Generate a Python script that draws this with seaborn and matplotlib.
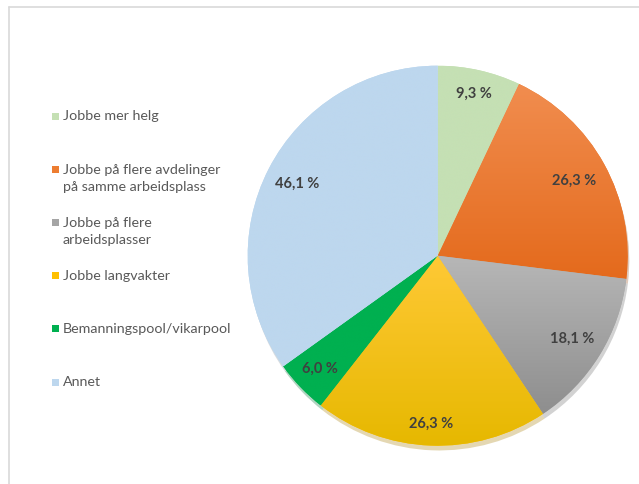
# plot.py - kakediagram, tiltak for å øke stillingsstørrelse

import numpy as np
import seaborn as sns
import matplotlib.pyplot as plt
from matplotlib.patches import Rectangle
from matplotlib.lines import Line2D
from matplotlib.colors import to_rgb, LinearSegmentedColormap

kategorier = [
    "Jobbe mer helg",
    "Jobbe på flere avdelinger\npå samme arbeidsplass",
    "Jobbe på flere\narbeidsplasser",
    "Jobbe langvakter",
    "Bemanningspool/vikarpool",
    "Annet",
]
verdier = [9.3, 26.3, 18.1, 26.3, 6.0, 46.1]

# farge topp / bunn for gradient
farger_topp = ["#C5E0B4", "#F18D4F", "#B7B7B7", "#FFC936", "#00B050", "#BDD7EE"]
farger_bunn = ["#C5E0B4", "#E46A1C", "#8E8E8E", "#E6B800", "#00B050", "#BDD7EE"]
legende_farger = ["#C5E0B4", "#ED7D31", "#A5A5A5", "#FFC000", "#00B050", "#BDD7EE"]

# etikettavstand fra senter (andel av radius), som i Excel "best fit"
etikett_avstand = [0.875, 0.82, 0.83, 0.885, 0.86, 0.83]

sns.set_theme(style="white")
plt.rcParams["font.family"] = ["Lato", "DejaVu Sans"]

W, H = 639, 484
fig = plt.figure(figsize=(W / 100, H / 100), dpi=100)

# pie: senter og radius i piksler
cx, cy, R = 437.7, 255.7, 190.0
half = 200.0
ax = fig.add_axes([(cx - half) / W, (H - cy - half) / H, 2 * half / W, 2 * half / H])

total = sum(verdier)
wedges, tekster, autotekster = ax.pie(
    verdier,
    colors=legende_farger,
    startangle=90,
    counterclock=False,
    radius=1.0,
    autopct=lambda p: f"{p * total / 100:.1f}".replace(".", ",") + " %",
    pctdistance=0.85,
    wedgeprops={"linewidth": 0},
    shadow={"ox": 0.006, "oy": -0.018, "shade": 0.35, "alpha": 0.3},
    textprops={"fontsize": 10.5, "fontweight": "bold", "color": "#404040"},
)

# gradientfyll per sektor
grad = np.linspace(0, 1, 256).reshape(-1, 1)
for w, ct, cb in zip(wedges, farger_topp, farger_bunn):
    cmap = LinearSegmentedColormap.from_list("g", [to_rgb(ct), to_rgb(cb)])
    v = w.get_path().vertices
    x0, x1 = v[:, 0].min(), v[:, 0].max()
    y0, y1 = v[:, 1].min(), v[:, 1].max()
    im = ax.imshow(grad, cmap=cmap, extent=(x0, x1, y0, y1), origin="upper",
                   aspect="auto", zorder=w.get_zorder(), interpolation="bicubic")
    im.set_clip_path(w)
for t, d in zip(autotekster, etikett_avstand):
    t.set_position(np.array(t.get_position()) * d / 0.85)
    t.set_zorder(10)

lim = half / R
ax.set_xlim(-lim, lim)
ax.set_ylim(-lim, lim)
ax.set_axis_off()

# legende
y_start, steg = 116, 53.2
for i, (navn, farge) in enumerate(zip(kategorier, legende_farger)):
    y = y_start + i * steg
    fig.add_artist(Rectangle((52 / W, (H - y - 3.5) / H), 7 / W, 7 / H,
                             transform=fig.transFigure, color=farge, lw=0))
    fig.text(63 / W, (H - y + 5.5) / H, navn, fontsize=10.3, color="#595959",
             va="top", ha="left", linespacing=1.5)

# ramme
fig.add_artist(Line2D([8.5 / W, 8.5 / W], [0, (H - 7) / H], transform=fig.transFigure,
                      color="#D9D9D9", lw=1.2))
fig.add_artist(Line2D([8.5 / W, 1], [(H - 7) / H, (H - 7) / H], transform=fig.transFigure,
                      color="#D9D9D9", lw=1.2))

fig.savefig("out.png", dpi=100)
